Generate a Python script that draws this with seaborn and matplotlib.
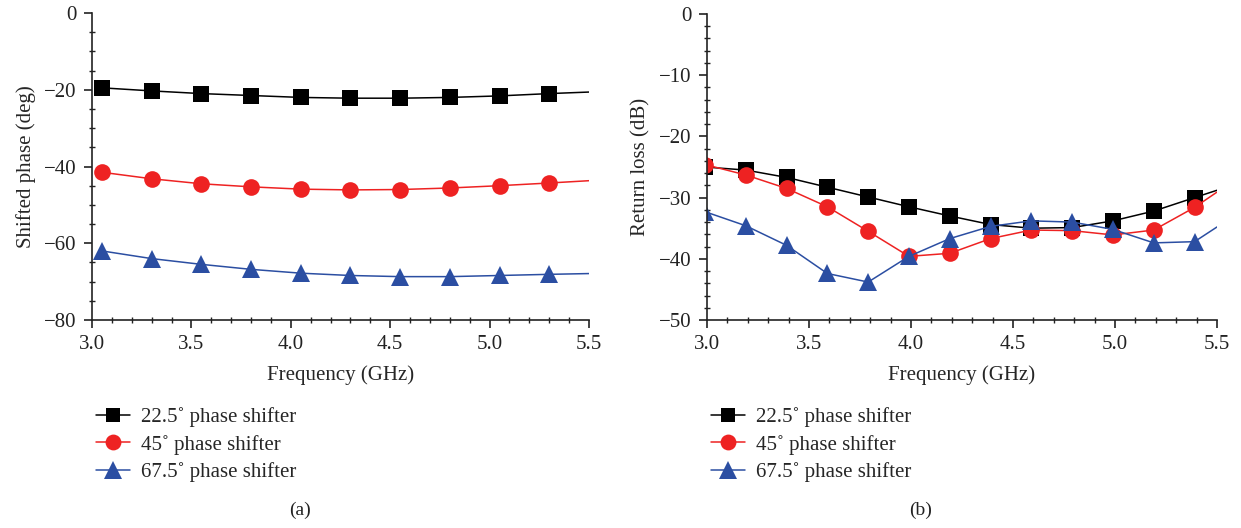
import matplotlib
matplotlib.use("Agg")
import matplotlib.pyplot as plt
import seaborn as sns
from matplotlib.ticker import MultipleLocator, FormatStrFormatter
from matplotlib.lines import Line2D

sns.set_theme(style="white")
plt.rcParams['font.family'] = ['Liberation Serif', 'DejaVu Serif']
plt.rcParams['axes.unicode_minus'] = True

# ---- Data (a) shifted phase ----
freq_a = [3.05, 3.3, 3.55, 3.8, 4.05, 4.3, 4.55, 4.8, 5.05, 5.3, 5.5]
phase_22 = [-19.5, -20.3, -21.0, -21.5, -22.0, -22.2, -22.2, -22.0, -21.6, -21.0, -20.6]
phase_45 = [-41.5, -43.2, -44.5, -45.3, -45.9, -46.1, -46.0, -45.6, -45.0, -44.3, -43.7]
phase_67 = [-62.0, -64.0, -65.5, -66.8, -67.8, -68.4, -68.7, -68.7, -68.4, -68.1, -67.9]

# ---- Data (b) return loss ----
freq_b = [2.99, 3.19, 3.39, 3.59, 3.79, 3.99, 4.19, 4.39, 4.59, 4.79, 4.99, 5.19, 5.39, 5.5]
rl_22 = [-25.0, -25.5, -26.7, -28.3, -29.9, -31.5, -33.0, -34.4, -35.0, -34.9, -33.8, -32.2, -30.0, -28.8]
rl_45 = [-24.6, -26.3, -28.5, -31.5, -35.5, -39.6, -39.1, -36.7, -35.3, -35.4, -36.1, -35.3, -31.6, -29.1]
rl_67 = [-32.3, -34.6, -37.8, -42.4, -43.8, -39.6, -36.7, -34.7, -33.8, -34.0, -35.2, -37.4, -37.2, -34.8]

labels = ["22.5\u02da phase shifter", "45\u02da phase shifter", "67.5\u02da phase shifter"]
colors = ["#000000", "#ee2222", "#2b4ea2"]
markers = ["s", "o", "^"]
msizes = [11, 12, 13]

FS = 15

fig = plt.figure(figsize=(12.41, 5.28), dpi=100)
ax1 = fig.add_axes([92/1241, 1-320/528, (589-92)/1241, (320-13)/528])
ax2 = fig.add_axes([707/1241, 1-320/528, (1217-707)/1241, (320-14)/528])

def draw(ax, x, ys):
    for y, c, m, ms, lab in zip(ys, colors, markers, msizes, labels):
        n = len(x)
        sns.lineplot(x=x, y=y, ax=ax, color=c, lw=1.1, marker=m, markersize=ms,
                     markeredgewidth=0, markevery=list(range(n-1)), label=lab,
                     sort=False, legend=False)

draw(ax1, freq_a, [phase_22, phase_45, phase_67])
draw(ax2, freq_b, [rl_22, rl_45, rl_67])

for ax in (ax1, ax2):
    ax.set_xlim(3.0, 5.5)
    ax.xaxis.set_major_locator(MultipleLocator(0.5))
    ax.xaxis.set_minor_locator(MultipleLocator(0.1))
    ax.xaxis.set_major_formatter(FormatStrFormatter('%.1f'))
    for s in ("top", "right"):
        ax.spines[s].set_visible(False)
    for s in ("left", "bottom"):
        ax.spines[s].set_linewidth(1.2)
        ax.spines[s].set_color("#222222")
    ax.tick_params(which="major", direction="out", length=6, width=1.2, labelsize=FS,
                   colors="#222222", left=True, bottom=True, pad=5)
    ax.tick_params(which="minor", direction="inout", length=4, width=1.0,
                   colors="#222222", left=True, bottom=True)
    ax.set_xlabel("Frequency (GHz)", fontsize=FS, labelpad=8)
    ax.grid(False)

ax1.set_ylim(-80, 0)
ax1.yaxis.set_major_locator(MultipleLocator(20))
ax1.yaxis.set_minor_locator(MultipleLocator(5))
ax1.set_ylabel("Shifted phase (deg)", fontsize=FS, labelpad=6)

ax2.set_ylim(-50, 0)
ax2.yaxis.set_major_locator(MultipleLocator(10))
ax2.yaxis.set_minor_locator(MultipleLocator(2))
ax2.set_ylabel("Return loss (dB)", fontsize=FS, labelpad=6)

def make_handles():
    return [Line2D([], [], color=c, lw=1.1, marker=m, markersize=ms*0.95, markeredgewidth=0)
            for c, m, ms in zip(colors, markers, msizes)]

for x0 in (86, 701):
    fig.legend(make_handles(), labels, loc="upper left", bbox_to_anchor=(x0/1241, 1-397/528),
               frameon=False, fontsize=FS, handlelength=1.6, handletextpad=0.55,
               labelspacing=0.36, borderpad=0)

fig.text(300/1241, 1-510/528, "(a)", ha="center", va="center", fontsize=14, color="#222222")
fig.text(921/1241, 1-510/528, "(b)", ha="center", va="center", fontsize=14, color="#222222")

fig.savefig("out.png", dpi=100)
